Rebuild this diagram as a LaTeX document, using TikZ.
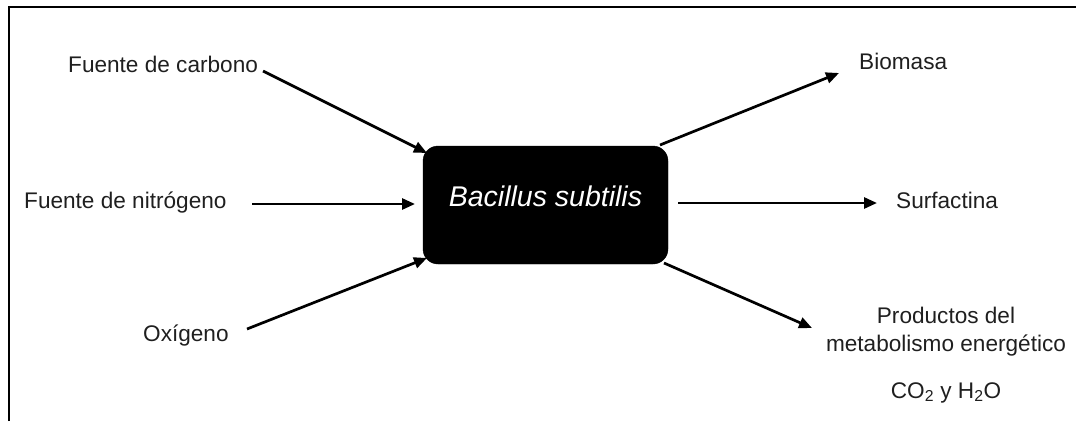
\documentclass[tikz,border=0pt]{standalone}
\usepackage{fontspec}
\setmainfont{Liberation Sans}
\usetikzlibrary{arrows.meta}
\begin{document}
\begin{tikzpicture}[x=1pt,y=-1pt,
  lbl/.style={font=\fontsize{22.6}{27}\selectfont, inner sep=0pt, text=black!88},
  flow/.style={line width=2.7pt, -{Triangle[length=13pt,width=11pt]}},
  frame/.style={line width=2.7pt},
  cellbox/.style={fill=black, draw=black, rounded corners=15pt, inner sep=0pt,
    minimum width=245pt, minimum height=118pt, text=white,
    font=\fontsize{28.5}{34}\selectfont\itshape, text height=12pt, text depth=10pt}]
\useasboundingbox (0,0) rectangle (1076,421);
% open frame: top and left edges only
\draw[frame] (9,421) -- (9,7) -- (1076,7);

% central organism
\node[cellbox] (bs) at (545.5,205) {Bacillus subtilis};

% inputs
\node[lbl, anchor=base west] (carbon) at (68,72) {Fuente de carbono};
\node[lbl, anchor=base west] (nitro) at (24,208) {Fuente de nitrógeno};
\node[lbl, anchor=base west] (oxy) at (143,341) {Oxígeno};

% outputs
\node[lbl, anchor=base west] (bio) at (859,69) {Biomasa};
\node[lbl, anchor=base west] (surf) at (896,208) {Surfactina};
\node[lbl, anchor=base, align=center] (prod) at (946,323) {Productos del};
\node[lbl, anchor=base] (meta) at (946,351) {metabolismo energético};
\node[lbl, anchor=base] (gas) at (946,398) {CO\textsubscript{2} y H\textsubscript{2}O};

% arrow end points
\coordinate (c1) at (263,71);   \coordinate (c1t) at (427,153);
\coordinate (n1) at (252,204);  \coordinate (n1t) at (415,204);
\coordinate (o1) at (247,329);  \coordinate (o1t) at (427,258);
\coordinate (b1) at (660,145);  \coordinate (b1t) at (839,73);
\coordinate (s1) at (678,203);  \coordinate (s1t) at (877,203);
\coordinate (p1) at (664,263);  \coordinate (p1t) at (812,328);

\draw[flow] (c1) -- (c1t);
\draw[flow] (n1) -- (n1t);
\draw[flow] (o1) -- (o1t);
\draw[flow] (b1) -- (b1t);
\draw[flow] (s1) -- (s1t);
\draw[flow] (p1) -- (p1t);
\end{tikzpicture}
\end{document}
